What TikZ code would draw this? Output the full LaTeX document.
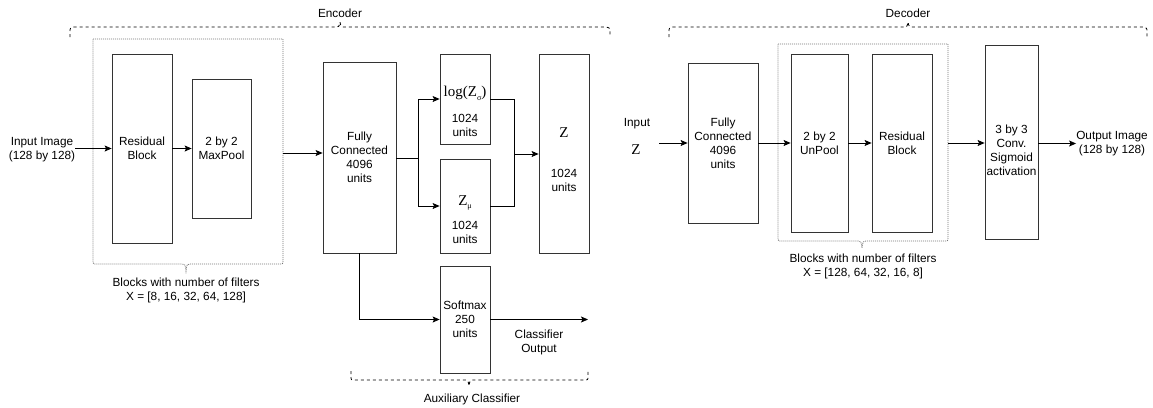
\documentclass[tikz,border=0pt]{standalone}
\usepackage{fontspec}
\setmainfont{Liberation Sans}
\newfontfamily\zfont{Liberation Serif}
\usetikzlibrary{arrows.meta}
\begin{document}
\begin{tikzpicture}[x=1pt,y=-1pt,
  txt/.style={inner sep=0pt, align=center, font=\fontsize{11.8}{14}\selectfont},
  ztxt/.style={inner sep=0pt, font=\zfont\fontsize{15}{16}\selectfont},
  box/.style={draw=black!80, line width=0.8pt, fill=white, inner sep=0pt,
    align=center, font=\fontsize{11.8}{14}\selectfont},
  arr/.style={line width=0.8pt, -{Stealth[length=7pt,width=6pt,inset=1.5pt]}},
  wire/.style={line width=0.8pt},
  brace/.style={line width=0.8pt, dash pattern=on 3pt off 3pt},
  grp/.style={line width=0.8pt, black!55, dash pattern=on 1pt off 1pt}
]
\useasboundingbox (0,0) rectangle (1153,407);

% ---------------- Encoder ----------------
\draw[brace] (70,37) -- (70,32) .. controls (70,28) .. (74,27) -- (335,27)
  .. controls (339,27) .. (340,22) .. controls (341,27) .. (345,27) -- (606,27)
  .. controls (610,28) .. (610,32) -- (610,37);
\node[txt] (enclbl) at (340,13) {Encoder};

% repeated residual / pooling blocks
\draw[grp] (93,39) -- (283,39) -- (283,260) .. controls (283,264) .. (279,264)
  -- (190,264) .. controls (187,264) .. (186,271) .. controls (185,264) .. (182,264)
  -- (97,264) .. controls (93,264) .. (93,260) -- cycle;
\coordinate (grpE-e) at (283,153);
\node[txt] (grpElbl) at (186,290) {Blocks with number of filters\\X = [8, 16, 32, 64, 128]};

\node[txt] (inimg) at (42,150) {Input Image\\(128 by 128)};
\node[box, minimum width=60, minimum height=189] (resE) at (142,148.5) {Residual\\Block};
\node[box, minimum width=59, minimum height=139] (mpE) at (221.5,148.5) {2 by 2\\MaxPool};
\node[box, minimum width=73, minimum height=191] (fcE) at (359.5,157.5) {Fully\\Connected\\4096\\units};

\node[box, minimum width=50, minimum height=90] (logb) at (465,99) {};
\node[ztxt] (logt) at (465,93) {log(Z\raisebox{-0.25em}{\fontsize{8}{8}\selectfont σ})};
\node[txt] (logu) at (465,125) {1024\\units};

\node[box, minimum width=50, minimum height=94] (mub) at (465,206) {};
\node[ztxt] (mut) at (465,203) {Z\raisebox{-0.25em}{\fontsize{8}{8}\selectfont μ}};
\node[txt] (muu) at (465,232) {1024\\units};

\node[box, minimum width=50, minimum height=199] (zb) at (564,153.5) {};
\node[ztxt] (zt) at (564,133) {Z};
\node[txt] (zu) at (564,180) {1024\\units};

\node[box, minimum width=50, minimum height=107] (smx) at (465,319.5) {Softmax\\250\\units};
\coordinate (clsout) at (588,319.5);
\node[txt] (clslbl) at (539,342) {Classifier\\Output};

% auxiliary classifier brace
\draw[brace] (351,371) -- (351,376) .. controls (351,380) .. (355,380) -- (464,380)
  .. controls (468,380) .. (469,386) .. controls (470,380) .. (474,380) -- (584,380)
  .. controls (588,380) .. (588,376) -- (588,371);
\node[txt] (auxlbl) at (472,399) {Auxiliary Classifier};

% encoder connectors
\draw[arr] (inimg.east |- resE) -- (resE.west);
\draw[arr] (resE) -- (mpE);
\draw[arr] (grpE-e) -- (grpE-e -| fcE.west);
\coordinate (splitE) at (418,158);
\draw[wire] (fcE.east |- splitE) -- (splitE);
\draw[arr] (splitE) |- (logb.west);
\draw[arr] (splitE) |- (mub.west);
\coordinate (mergeE) at (514,154);
\draw[wire] (logb.east) -| (mergeE);
\draw[wire] (mub.east) -| (mergeE);
\draw[arr] (mergeE) -- (mergeE -| zb.west);
\draw[arr] (fcE.south) |- (smx.west);
\draw[arr] (smx.east) -- (clsout);

% ---------------- Decoder ----------------
\draw[brace] (669,37) -- (669,32) .. controls (669,28) .. (673,27) -- (903,27)
  .. controls (907,27) .. (908,22) .. controls (909,27) .. (913,27) -- (1143,27)
  .. controls (1147,28) .. (1147,32) -- (1147,37);
\node[txt] (declbl) at (908,13) {Decoder};

\draw[grp] (778,44) -- (948,44) -- (948,237) .. controls (948,241) .. (944,241)
  -- (866,241) .. controls (863,241) .. (862,248) .. controls (861,241) .. (858,241)
  -- (782,241) .. controls (778,241) .. (778,237) -- cycle;
\coordinate (grpD-e) at (948,143);
\node[txt] (grpDlbl) at (863,266) {Blocks with number of filters\\X = [128, 64, 32, 16, 8]};

\node[txt] (inzlbl) at (637,124) {Input};
\node[ztxt] (inz) at (636,150) {Z};
\coordinate (inz-e) at (659,143);
\node[box, minimum width=70, minimum height=160] (fcD) at (723,143) {Fully\\Connected\\4096\\units};
\node[box, minimum width=57, minimum height=178] (unp) at (819.5,143) {2 by 2\\UnPool};
\node[box, minimum width=60, minimum height=178] (resD) at (902,143) {Residual\\Block};
\node[box, minimum width=53, minimum height=194] (conv) at (1011.5,142) {};
\node[txt] (convt) at (1011.5,150) {3 by 3\\Conv.\\Sigmoid\\activation};
\node[txt] (outimg) at (1112,143.5) {Output Image\\(128 by 128)};

% decoder connectors
\draw[arr] (inz-e) -- (fcD.west);
\draw[arr] (fcD) -- (unp);
\draw[arr] (unp) -- (resD);
\draw[arr] (grpD-e) -- (grpD-e -| conv.west);
\draw[arr] (conv.east |- outimg.west) -- (outimg.west);
\end{tikzpicture}
\end{document}
